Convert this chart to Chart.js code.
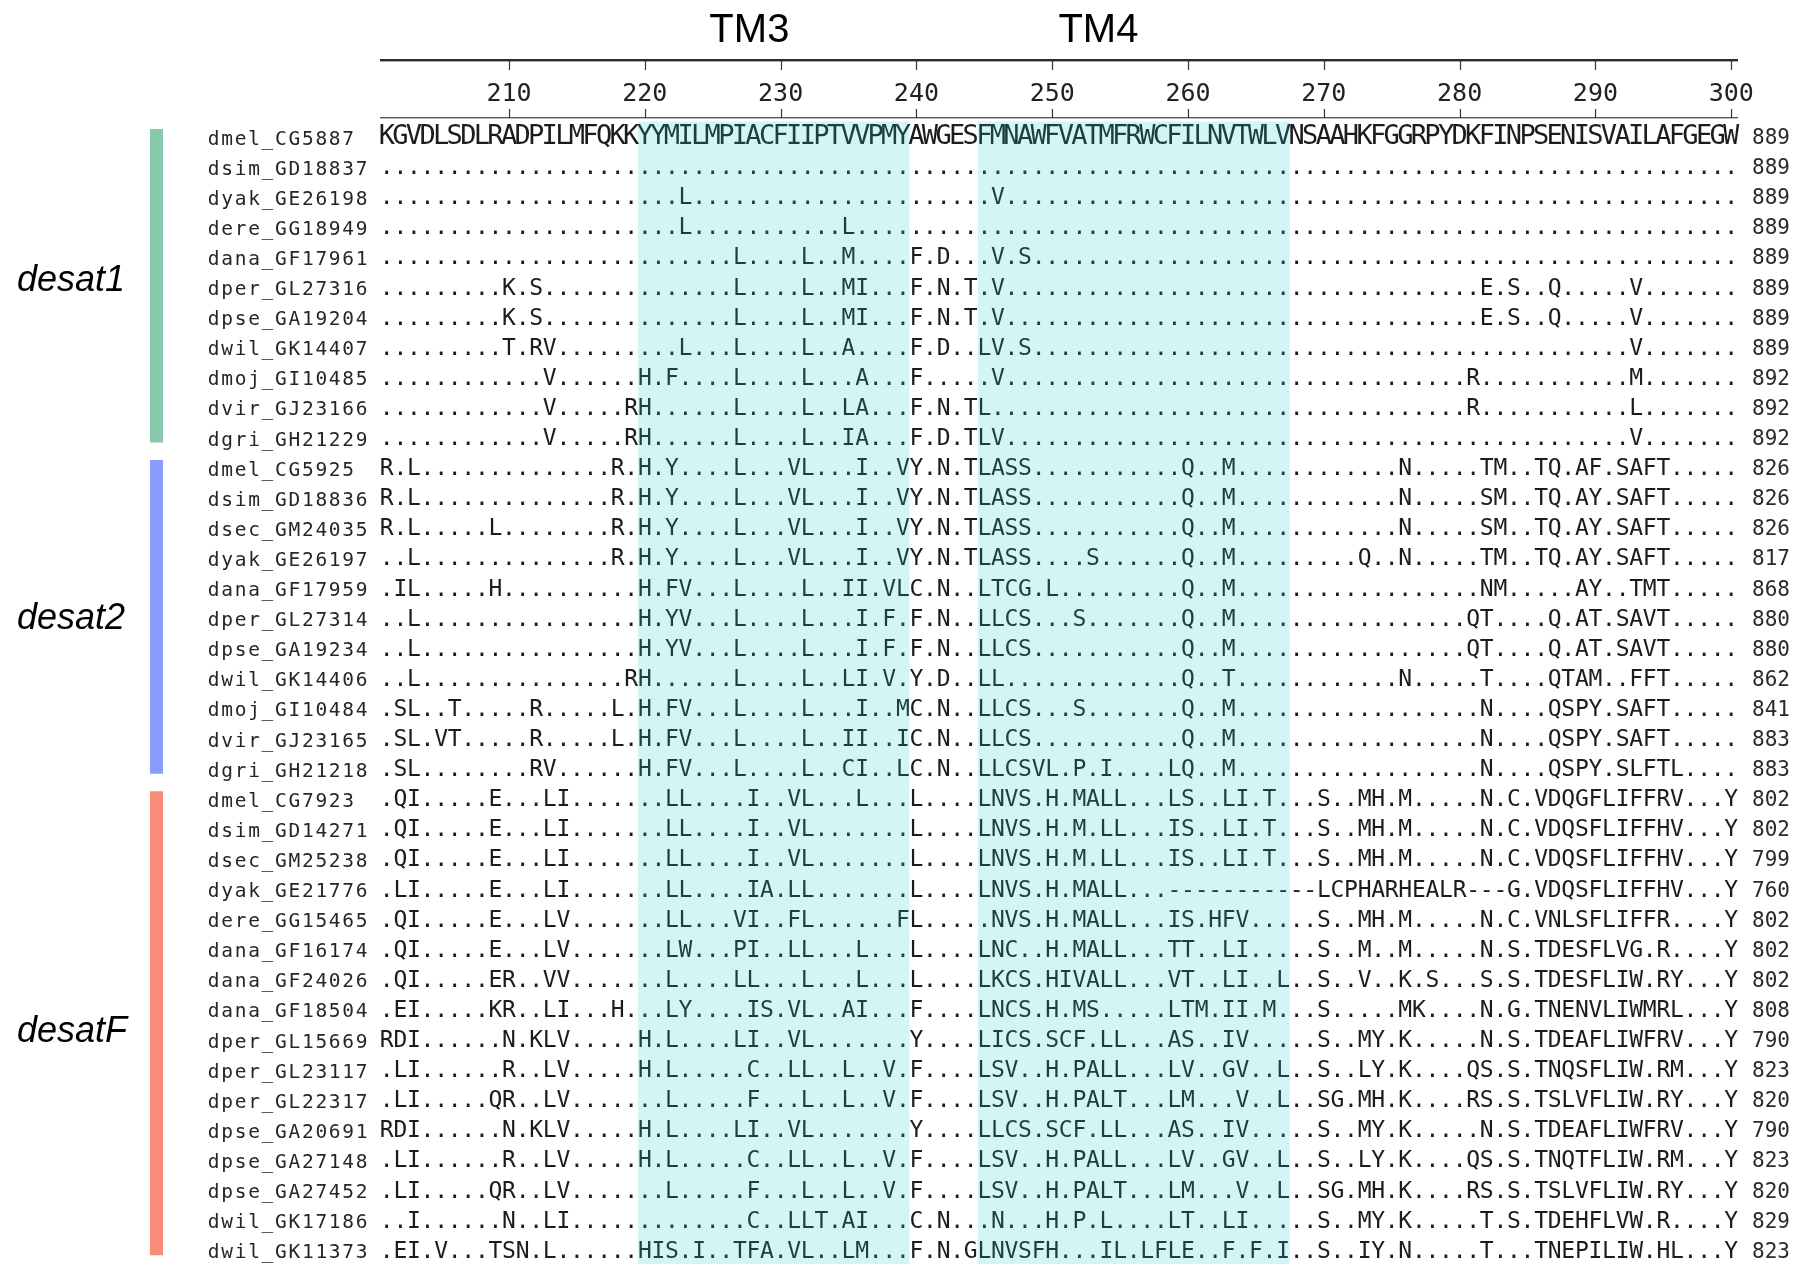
<!DOCTYPE html>
<html><head><meta charset="utf-8">
<script src="https://cdn.jsdelivr.net/npm/chart.js@4.4.1/dist/chart.umd.min.js"></script>
<style>html,body{margin:0;padding:0;background:#fff;overflow:hidden}canvas{display:block}</style>
</head><body>
<canvas id="c" width="1807" height="1264" style="width:1807px;height:1264px"></canvas>
<script>
// ---------------- DATA ----------------
const names = [
 'dmel_CG5887','dsim_GD18837','dyak_GE26198','dere_GG18949','dana_GF17961','dper_GL27316','dpse_GA19204','dwil_GK14407','dmoj_GI10485','dvir_GJ23166','dgri_GH21229',
 'dmel_CG5925','dsim_GD18836','dsec_GM24035','dyak_GE26197','dana_GF17959','dper_GL27314','dpse_GA19234','dwil_GK14406','dmoj_GI10484','dvir_GJ23165','dgri_GH21218',
 'dmel_CG7923','dsim_GD14271','dsec_GM25238','dyak_GE21776','dere_GG15465','dana_GF16174','dana_GF24026','dana_GF18504','dper_GL15669','dper_GL23117','dper_GL22317','dpse_GA20691','dpse_GA27148','dpse_GA27452','dwil_GK17186','dwil_GK11373'
];
// alignment columns 201..300, written in blocks of ten
const sequences = [
 "KGVDLSDLRA DPILMFQKKY YMILMPIACF IIPTVVPMYA WGESFMNAWF VATMFRWCFI LNVTWLVNSA AHKFGGRPYD KFINPSENIS VAILAFGEGW",
 ".......... .......... .......... .......... .......... .......... .......... .......... .......... ..........",
 ".......... .......... ..L....... .......... .....V.... .......... .......... .......... .......... ..........",
 ".......... .......... ..L....... ....L..... .......... .......... .......... .......... .......... ..........",
 ".......... .......... ......L... .L..M....F .D...V.S.. .......... .......... .......... .......... ..........",
 ".........K .S........ ......L... .L..MI...F .N.T.V.... .......... .......... .......... .E.S..Q... ..V.......",
 ".........K .S........ ......L... .L..MI...F .N.T.V.... .......... .......... .......... .E.S..Q... ..V.......",
 ".........T .RV....... ..L...L... .L..A....F .D..LV.S.. .......... .......... .......... .......... ..V.......",
 ".......... ..V......H .F....L... .L...A...F .....V.... .......... .......... .......... R......... ..M.......",
 ".......... ..V.....RH ......L... .L..LA...F .N.TL..... .......... .......... .......... R......... ..L.......",
 ".......... ..V.....RH ......L... .L..IA...F .D.TLV.... .......... .......... .......... .......... ..V.......",
 "R.L....... .......R.H .Y....L... VL...I..VY .N.TLASS.. .........Q ..M....... .....N.... .TM..TQ.AF .SAFT.....",
 "R.L....... .......R.H .Y....L... VL...I..VY .N.TLASS.. .........Q ..M....... .....N.... .SM..TQ.AY .SAFT.....",
 "R.L.....L. .......R.H .Y....L... VL...I..VY .N.TLASS.. .........Q ..M....... .....N.... .SM..TQ.AY .SAFT.....",
 "..L....... .......R.H .Y....L... VL...I..VY .N.TLASS.. ..S......Q ..M....... ..Q..N.... .TM..TQ.AY .SAFT.....",
 ".IL.....H. .........H .FV...L... .L..II.VLC .N..LTCG.L .........Q ..M....... .......... .NM.....AY ..TMT.....",
 "..L....... .........H .YV...L... .L...I.F.F .N..LLCS.. .S.......Q ..M....... .......... QT....Q.AT .SAVT.....",
 "..L....... .........H .YV...L... .L...I.F.F .N..LLCS.. .........Q ..M....... .......... QT....Q.AT .SAVT.....",
 "..L....... ........RH ......L... .L..LI.V.Y .D..LL.... .........Q ..T....... .....N.... .T....QTAM ..FFT.....",
 ".SL..T.... .R.....L.H .FV...L... .L...I..MC .N..LLCS.. .S.......Q ..M....... .......... .N....QSPY .SAFT.....",
 ".SL.VT.... .R.....L.H .FV...L... .L..II..IC .N..LLCS.. .........Q ..M....... .......... .N....QSPY .SAFT.....",
 ".SL....... .RV......H .FV...L... .L..CI..LC .N..LLCSVL .P.I....LQ ..M....... .......... .N....QSPY .SLFTL....",
 ".QI.....E. ..LI...... .LL....I.. VL...L...L ....LNVS.H .MALL...LS ..LI.T...S ..MH.M.... .N.C.VDQGF LIFFRV...Y",
 ".QI.....E. ..LI...... .LL....I.. VL.......L ....LNVS.H .M.LL...IS ..LI.T...S ..MH.M.... .N.C.VDQSF LIFFHV...Y",
 ".QI.....E. ..LI...... .LL....I.. VL.......L ....LNVS.H .M.LL...IS ..LI.T...S ..MH.M.... .N.C.VDQSF LIFFHV...Y",
 ".LI.....E. ..LI...... .LL....IA. LL.......L ....LNVS.H .MALL...-- ---------L CPHARHEALR ---G.VDQSF LIFFHV...Y",
 ".QI.....E. ..LV...... .LL...VI.. FL......FL .....NVS.H .MALL...IS .HFV.....S ..MH.M.... .N.C.VNLSF LIFFR....Y",
 ".QI.....E. ..LV...... .LW...PI.. LL...L...L ....LNC..H .MALL...TT ..LI.....S ..M..M.... .N.S.TDESF LVG.R....Y",
 ".QI.....ER ..VV...... .L....LL.. .L...L...L ....LKCS.H IVALL...VT ..LI..L..S ..V..K.S.. .S.S.TDESF LIW.RY...Y",
 ".EI.....KR ..LI...H.. .LY....IS. VL..AI...F ....LNCS.H .MS.....LT M.II.M...S .....MK... .N.G.TNENV LIWMRL...Y",
 "RDI......N .KLV.....H .L....LI.. VL.......Y ....LICS.S CF.LL...AS ..IV.....S ..MY.K.... .N.S.TDEAF LIWFRV...Y",
 ".LI......R ..LV.....H .L.....C.. LL..L..V.F ....LSV..H .PALL...LV ..GV..L..S ..LY.K.... QS.S.TNQSF LIW.RM...Y",
 ".LI.....QR ..LV...... .L.....F.. .L..L..V.F ....LSV..H .PALT...LM ...V..L..S G.MH.K.... RS.S.TSLVF LIW.RY...Y",
 "RDI......N .KLV.....H .L....LI.. VL.......Y ....LLCS.S CF.LL...AS ..IV.....S ..MY.K.... .N.S.TDEAF LIWFRV...Y",
 ".LI......R ..LV.....H .L.....C.. LL..L..V.F ....LSV..H .PALL...LV ..GV..L..S ..LY.K.... QS.S.TNQTF LIW.RM...Y",
 ".LI.....QR ..LV...... .L.....F.. .L..L..V.F ....LSV..H .PALT...LM ...V..L..S G.MH.K.... RS.S.TSLVF LIW.RY...Y",
 "..I......N ..LI...... .......C.. LLT.AI...C .N...N...H .P.L....LT ..LI.....S ..MY.K.... .T.S.TDEHF LVW.R....Y",
 ".EI.V...TS N.L......H IS.I..TFA. VL..LM...F .N.GLNVSFH ...IL.LFLE ..F.F.I..S ..IY.N.... .T...TNEPI LIW.HL...Y"
];
const endNumbers = [889,889,889,889,889,889,889,889,892,892,892, 826,826,826,817,868,880,880,862,841,883,883, 802,802,799,760,802,802,802,808,790,823,820,790,823,820,829,823];
const groups = ['desat1','desat2','desatF'];
const groupFirstRow = [0, 11, 22];
const groupLastRow = [10, 21, 37];
const firstPosition = 201;
const tickValues = [210,220,230,240,250,260,270,280,290,300];
const tickLabels = ['210','220','230','240','250','260','270','280','290','300'];
const tmLabels = ['TM3','TM4'];
const tmStart = [220, 245];
const tmEnd = [239, 267];

// ---------------- LAYOUT / STYLE ----------------
const X_MIN = 172.518, X_MAX = 305.581;
const Y_MIN = -4.505, Y_MAX = 37.488;
const GROUP_COLORS = ['#88c9ab', '#8a9bfd', '#f98d7a'];
const SHADE = 'rgba(40,205,205,0.20)';
const SHADE_TOP = -0.468;
const BAR_X = 184.04, BAR_TOP_OFF = -0.22, BAR_BOT_OFF = 0.2;
const LABEL_X = 173.77, GROUP_LABEL_BASE = [5.16, 16.4, 30.1];
const NAME_X = 188.254, NAME_PITCH = 0.99;
const NUM_X = 301.53;
const BASE_OFF = 8.4;          // px from row centre to baseline
const RULER_TOP = -2.51, RULER_BOT = -0.585, TICK_TOP_END = -2.18, TICK_BOT_START = -0.88;
const TICK_LABEL_BASE = -1.15, TM_LABEL_BASE = -3.11, TM_LABEL_X = [227.7, 253.4];
const MONO = '"DejaVu Sans Mono", monospace';

const rows = sequences.map(s => s.replace(/ /g, ''));

// ---------------- DATASETS ----------------
const datasets = [];
groups.forEach((g, i) => {
  datasets.push({
    label: g, type: 'line',
    data: [{x: BAR_X, y: groupFirstRow[i] + BAR_TOP_OFF}, {x: BAR_X, y: groupLastRow[i] + BAR_BOT_OFF}],
    borderColor: GROUP_COLORS[i], borderWidth: 13, borderCapStyle: 'butt',
    pointRadius: 0, pointHoverRadius: 0, fill: false
  });
});
tmLabels.forEach((t, i) => {
  datasets.push({
    label: t, type: 'line',
    data: [{x: tmStart[i] - 0.5, y: SHADE_TOP}, {x: tmEnd[i] + 0.5, y: SHADE_TOP}],
    borderWidth: 0, borderColor: 'rgba(0,0,0,0)', backgroundColor: SHADE,
    pointRadius: 0, pointHoverRadius: 0, fill: {value: Y_MAX}
  });
});

// ---------------- TEXT + RULER PLUGIN ----------------
const alignmentText = {
  id: 'alignmentText',
  beforeDatasetsDraw(chart) {
    const ctx = chart.ctx, xs = chart.scales.x, ys = chart.scales.y;
    ctx.save();
    // group labels
    ctx.fillStyle = '#000';
    ctx.textAlign = 'left'; ctx.textBaseline = 'alphabetic';
    ctx.font = 'italic 36px "Liberation Sans", Arial, sans-serif';
    groups.forEach((g, i) => ctx.fillText(g, xs.getPixelForValue(LABEL_X), ys.getPixelForValue(GROUP_LABEL_BASE[i])));
    // names
    ctx.textAlign = 'center';
    ctx.font = '19.5px ' + MONO;
    ctx.fillStyle = '#262626';
    names.forEach((n, r) => {
      const y = ys.getPixelForValue(r) + BASE_OFF + 0.5;
      for (let k = 0; k < n.length; k++) ctx.fillText(n[k], xs.getPixelForValue(NAME_X + k * NAME_PITCH), y);
    });
    // residues
    rows.forEach((seq, r) => {
      ctx.font = (r === 0 ? '27px ' : '23px ') + MONO;
      ctx.fillStyle = '#1c1c1c';
      const y = ys.getPixelForValue(r) + BASE_OFF;
      for (let i = 0; i < seq.length; i++) ctx.fillText(seq[i], xs.getPixelForValue(firstPosition + i), y);
    });
    // end numbers
    ctx.textAlign = 'left';
    ctx.font = '21px ' + MONO;
    ctx.fillStyle = '#2a2a2a';
    endNumbers.forEach((v, r) => ctx.fillText(String(v), xs.getPixelForValue(NUM_X), ys.getPixelForValue(r) + BASE_OFF));
    // ruler
    const xl = xs.getPixelForValue(firstPosition - 0.5), xr = xs.getPixelForValue(firstPosition + rows[0].length - 0.5);
    const yt = ys.getPixelForValue(RULER_TOP), yb = ys.getPixelForValue(RULER_BOT);
    ctx.fillStyle = '#2b2b2b'; ctx.fillRect(xl, Math.round(yt) - 1, xr - xl, 2);
    ctx.fillStyle = '#a8a8a8'; ctx.fillRect(xl, Math.round(yt) + 1, xr - xl, 1);
    ctx.fillStyle = '#5a5a5a'; ctx.fillRect(xl, Math.round(yb) - 1, xr - xl, 1);
    ctx.fillStyle = '#bdbdbd'; ctx.fillRect(xl, Math.round(yb), xr - xl, 1);
    ctx.strokeStyle = '#333'; ctx.lineWidth = 1.2;
    ctx.textAlign = 'center';
    ctx.font = '25px ' + MONO;
    ctx.fillStyle = '#222';
    tickValues.forEach((v, i) => {
      const x = Math.round(xs.getPixelForValue(v)) + 0.5;
      ctx.beginPath();
      ctx.moveTo(x, yt); ctx.lineTo(x, ys.getPixelForValue(TICK_TOP_END));
      ctx.moveTo(x, ys.getPixelForValue(TICK_BOT_START)); ctx.lineTo(x, yb);
      ctx.stroke();
      ctx.fillText(tickLabels[i], xs.getPixelForValue(v), ys.getPixelForValue(TICK_LABEL_BASE));
    });
    // TM labels
    ctx.font = '40px "Liberation Sans", Arial, sans-serif';
    ctx.fillStyle = '#000';
    tmLabels.forEach((t, i) => ctx.fillText(t, xs.getPixelForValue(TM_LABEL_X[i]), ys.getPixelForValue(TM_LABEL_BASE)));
    ctx.restore();
  }
};

new Chart(document.getElementById('c'), {
  type: 'line',
  data: { datasets },
  options: {
    responsive: false, animation: false, devicePixelRatio: 1, events: [],
    layout: { padding: 0 },
    plugins: { legend: { display: false }, tooltip: { enabled: false } },
    elements: { line: { tension: 0 } },
    scales: {
      x: { type: 'linear', min: X_MIN, max: X_MAX, display: false },
      y: { type: 'linear', min: Y_MIN, max: Y_MAX, reverse: true, display: false }
    }
  },
  plugins: [alignmentText]
});
</script>
</body></html>
